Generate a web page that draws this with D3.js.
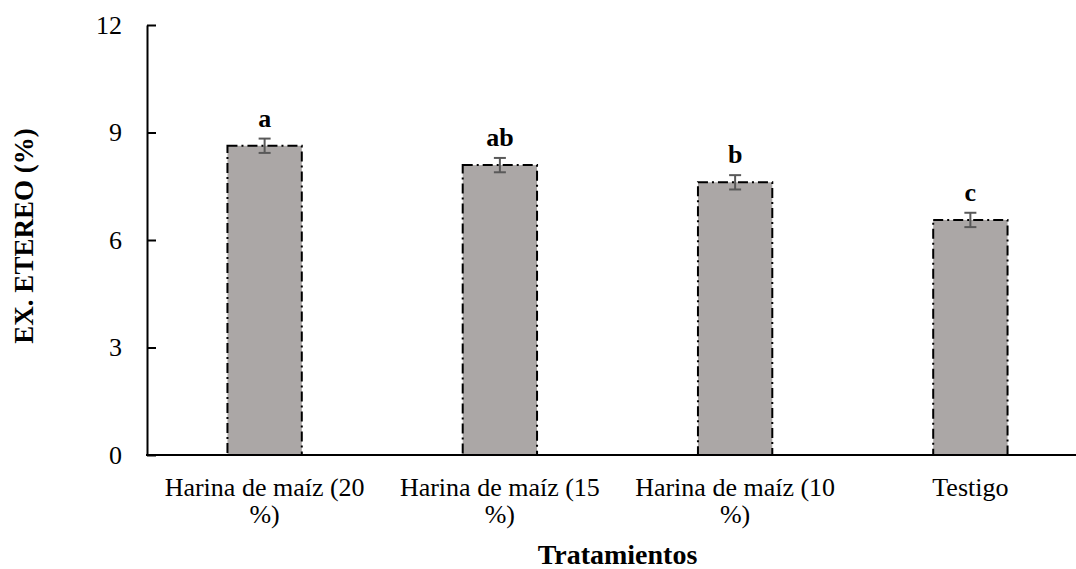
<!DOCTYPE html>
<html>
<head>
<meta charset="utf-8">
<script src="https://cdn.jsdelivr.net/npm/d3@7"></script>
<style>
  html, body { margin: 0; padding: 0; background: #fff; }
  svg { display: block; }
  svg text { font-family: "Liberation Serif", "DejaVu Serif", "Times New Roman", serif !important; fill: #000; }
</style>
</head>
<body>
<svg id="chart" width="1076" height="569" font-family="Liberation Serif, DejaVu Serif, serif"></svg>
<script>
// Extracto etéreo por tratamiento
const categories = [
  ["Harina de maíz (20", "%)"],
  ["Harina de maíz (15", "%)"],
  ["Harina de maíz (10", "%)"],
  ["Testigo"]
];
const values = [8.63, 8.09, 7.61, 6.56];
const errors = [0.2, 0.2, 0.2, 0.2];
const groups = ["a", "ab", "b", "c"];
const yTicks = [0, 3, 6, 9, 12];

const svg = d3.select("#chart");
const plotLeft = 147, plotRight = 1088, plotTop = 25, plotBottom = 455;
const serif = "Liberation Serif, DejaVu Serif, serif";

const x = d3.scaleBand()
  .domain(d3.range(values.length))
  .range([plotLeft, plotRight])
  .paddingInner(0.684)
  .paddingOuter(0.342);

const y = d3.scaleLinear().domain([0, 12]).range([plotBottom, plotTop]);

// bars
svg.append("g").selectAll("rect")
  .data(values)
  .join("rect")
  .attr("x", (d, i) => x(i))
  .attr("y", d => y(d))
  .attr("width", x.bandwidth())
  .attr("height", d => y(0) - y(d))
  .attr("fill", "#aba7a6")
  .attr("stroke", "#000")
  .attr("stroke-width", 2)
  .attr("stroke-dasharray", "10,4,2,4");

// error bars
const eg = svg.append("g").attr("stroke", "#595959").attr("stroke-width", 2);
values.forEach((v, i) => {
  const cx = x(i) + x.bandwidth() / 2;
  eg.append("line").attr("x1", cx).attr("x2", cx)
    .attr("y1", y(v + errors[i])).attr("y2", y(v - errors[i]));
  [v + errors[i], v - errors[i]].forEach(e => {
    eg.append("line").attr("x1", cx - 6).attr("x2", cx + 6)
      .attr("y1", y(e)).attr("y2", y(e));
  });
});

// significance letters
svg.append("g").selectAll("text")
  .data(groups)
  .join("text")
  .attr("x", (d, i) => x(i) + x.bandwidth() / 2)
  .attr("y", (d, i) => y(values[i] + errors[i]) - 12)
  .attr("text-anchor", "middle")
  .attr("font-family", serif)
  .attr("font-size", 26)
  .attr("font-weight", "bold")
  .text(d => d);

// y axis
const yAxis = svg.append("g")
  .attr("transform", `translate(${plotLeft},0)`)
  .call(d3.axisLeft(y).tickValues(yTicks).tickSizeInner(-9).tickSizeOuter(0).tickPadding(25));
yAxis.attr("font-family", serif);
yAxis.select(".domain").attr("stroke", "#000").attr("stroke-width", 2);
yAxis.selectAll(".tick line").attr("stroke", "#000").attr("stroke-width", 2);
yAxis.selectAll(".tick text")
  .attr("font-size", 26)
  .attr("font-family", serif)
  .attr("fill", "#000");

// x axis line
svg.append("line")
  .attr("x1", plotLeft - 1).attr("x2", plotRight)
  .attr("y1", plotBottom).attr("y2", plotBottom)
  .attr("stroke", "#000").attr("stroke-width", 2);

// category labels
const xl = svg.append("g").attr("font-family", serif);
categories.forEach((lines, i) => {
  const cx = x(i) + x.bandwidth() / 2;
  const t = xl.append("text")
    .attr("x", cx).attr("y", 496)
    .attr("text-anchor", "middle")
    .attr("font-size", 26);
  lines.forEach((ln, k) => {
    t.append("tspan").attr("x", cx).attr("dy", k === 0 ? 0 : 27).text(ln);
  });
});

// axis titles, centred on the plot area
svg.append("text")
  .attr("x", (plotLeft + plotRight) / 2).attr("y", 564)
  .attr("text-anchor", "middle")
  .attr("font-family", serif)
  .attr("font-size", 28)
  .attr("font-weight", "bold")
  .text("Tratamientos");

svg.append("text")
  .attr("transform", `translate(33,236) rotate(-90)`)
  .attr("text-anchor", "middle")
  .attr("font-family", serif)
  .attr("font-size", 27)
  .attr("font-weight", "bold")
  .text("EX. ETEREO (%)");
</script>
</body>
</html>
